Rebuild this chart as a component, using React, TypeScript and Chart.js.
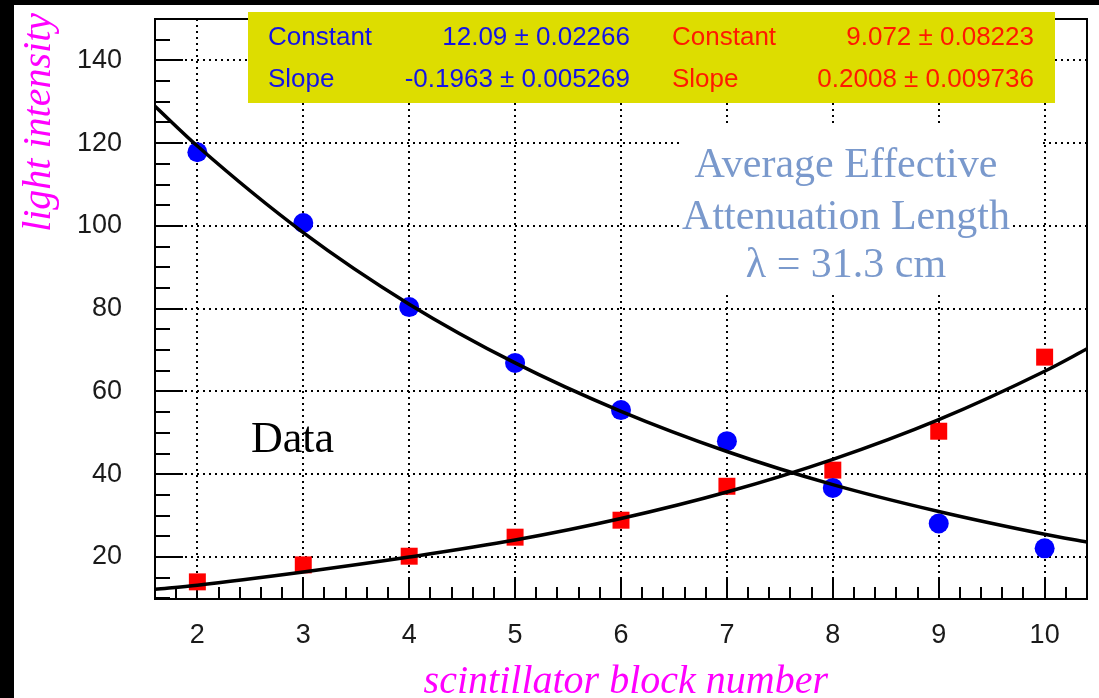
import React, { useEffect, useRef } from 'react';
import { Chart, registerables } from 'chart.js';

Chart.register(...registerables);

// ---- data ----
const blockNumbers = [2, 3, 4, 5, 6, 7, 8, 9, 10];
const blueIntensity = [117.8, 100.7, 80.4, 66.9, 55.5, 48.0, 36.7, 28.1, 22.1];
const redIntensity = [14.0, 18.1, 20.2, 24.8, 28.9, 37.1, 41.0, 50.4, 68.3];

const fitX = [1.6, 2, 3, 4, 5, 6, 7, 8, 9, 10, 10.4];
const blueFit = [128.9, 119.3, 98.4, 81.1, 66.9, 55.2, 45.5, 37.5, 31.0, 25.5, 23.6];
const redFit = [12.2, 13.2, 16.4, 20.0, 24.1, 29.3, 35.7, 43.6, 53.2, 64.9, 70.3];

const xTickValues = [2, 3, 4, 5, 6, 7, 8, 9, 10];
const yTickValues = [20, 40, 60, 80, 100, 120, 140];

const statLabels = ['Constant', 'Slope'];
const blueStats = ['12.09 \u00b1 0.02266', '-0.1963 \u00b1 0.005269'];
const redStats = ['9.072 \u00b1 0.08223', '0.2008 \u00b1 0.009736'];

const noteLines = ['Average Effective', 'Attenuation Length', '\u03bb = 31.3 cm'];
const dataLabel = 'Data';
const xTitle = 'scintillator block number';
const yTitle = 'light intensity';

const W = 1099;
const H = 698;

const backgroundPlugin = {
  id: 'bg',
  beforeDraw(chart: any) {
    const { ctx } = chart;
    ctx.save();
    ctx.fillStyle = '#000';
    ctx.fillRect(0, 0, W, H);
    ctx.fillStyle = '#fff';
    ctx.fillRect(14, 5, W - 14, H - 5);
    ctx.restore();
  },
};

const framePlugin = {
  id: 'frameTicks',
  beforeDatasetsDraw(chart: any) {
    const { ctx, chartArea, scales } = chart;
    const { left, right, top, bottom } = chartArea;
    const x = scales.x;
    const y = scales.y;
    ctx.save();
    // white backing of the pasted annotation text
    ctx.fillStyle = '#fff';
    ctx.fillRect(680, 123, 362, 77);
    ctx.fillRect(680, 200, 332, 92);

    ctx.strokeStyle = '#000';
    ctx.lineWidth = 2;
    ctx.beginPath();
    for (let i = 8; i <= 52; i++) {
      const v = i * 0.2;
      const px = Math.round(x.getPixelForValue(v));
      const major = i % 5 === 0;
      const len = major ? 20 : 12;
      ctx.moveTo(px, bottom);
      ctx.lineTo(px, bottom - len);
    }
    for (let i = 2; i <= 30; i++) {
      const v = i * 5;
      const py = Math.round(y.getPixelForValue(v));
      if (py < top || py > bottom) continue;
      const major = v % 20 === 0;
      const len = major ? 28 : 15;
      ctx.moveTo(left, py);
      ctx.lineTo(left + len, py);
    }
    ctx.stroke();
    ctx.strokeRect(left, top, right - left, bottom - top);
    ctx.restore();
  },
};

const textPlugin = {
  id: 'texts',
  afterDraw(chart: any) {
    const { ctx } = chart;
    ctx.save();
    // stats box
    ctx.fillStyle = 'rgb(221,221,0)';
    ctx.fillRect(248, 12, 807, 91);
    ctx.font = '26px "Liberation Sans", Arial, sans-serif';
    ctx.textBaseline = 'alphabetic';
    const rows = [45, 87];
    statLabels.forEach((lab, i) => {
      ctx.fillStyle = '#1414e6';
      ctx.textAlign = 'left';
      ctx.fillText(lab, 268, rows[i]);
      ctx.textAlign = 'right';
      ctx.fillText(blueStats[i], 630, rows[i]);
      ctx.fillStyle = '#ff1a00';
      ctx.textAlign = 'left';
      ctx.fillText(lab, 672, rows[i]);
      ctx.textAlign = 'right';
      ctx.fillText(redStats[i], 1034, rows[i]);
    });

    // annotation
    ctx.font = '42px "Liberation Serif", "Times New Roman", serif';
    ctx.fillStyle = 'rgb(122,153,204)';
    ctx.textAlign = 'center';
    const bases = [177, 229, 277];
    noteLines.forEach((t, i) => ctx.fillText(t, 846, bases[i]));

    ctx.font = '44px "Liberation Serif", "Times New Roman", serif';
    ctx.fillStyle = '#000';
    ctx.textAlign = 'left';
    ctx.fillText(dataLabel, 251, 452);

    // axis titles
    ctx.font = 'italic 40px "Liberation Serif", "Times New Roman", serif';
    ctx.fillStyle = '#ff00ff';
    ctx.textAlign = 'right';
    ctx.fillText(xTitle, 828, 693);

    ctx.translate(50, 13);
    ctx.rotate(-Math.PI / 2);
    ctx.textAlign = 'right';
    ctx.fillText(yTitle, 0, 0);
    ctx.restore();
  },
};

export default function App() {
  const ref = useRef<HTMLCanvasElement | null>(null);

  useEffect(() => {
    if (!ref.current) return;
    const tickFont = { family: '"Liberation Sans", Arial, sans-serif', size: 27 };
    const chart = new Chart(ref.current, {
      type: 'scatter',
      data: {
        datasets: [
          {
            label: 'blue fit',
            data: fitX.map((xv, i) => ({ x: xv, y: blueFit[i] })),
            showLine: true,
            borderColor: '#000',
            borderWidth: 3.5,
            pointRadius: 0,
            cubicInterpolationMode: 'monotone',
            order: 0,
          },
          {
            label: 'red fit',
            data: fitX.map((xv, i) => ({ x: xv, y: redFit[i] })),
            showLine: true,
            borderColor: '#000',
            borderWidth: 3.5,
            pointRadius: 0,
            cubicInterpolationMode: 'monotone',
            order: 1,
          },
          {
            label: 'blue data',
            data: blockNumbers.map((xv, i) => ({ x: xv, y: blueIntensity[i] })),
            pointStyle: 'circle',
            pointRadius: 10,
            pointBackgroundColor: '#0000ff',
            pointBorderWidth: 0,
            order: 2,
          },
          {
            label: 'red data',
            data: blockNumbers.map((xv, i) => ({ x: xv, y: redIntensity[i] })),
            pointStyle: 'rect',
            pointRadius: 12,
            pointBackgroundColor: '#ff0000',
            pointBorderWidth: 0,
            order: 3,
          },
        ] as any,
      },
      options: {
        responsive: false,
        animation: false,
        devicePixelRatio: 1,
        layout: { padding: { left: 0, top: 19, right: 12, bottom: 0 } },
        plugins: {
          legend: { display: false },
          tooltip: { enabled: false },
        },
        scales: {
          x: {
            type: 'linear',
            min: 1.6,
            max: 10.4,
            afterBuildTicks: (s: any) => {
              s.ticks = xTickValues.map((v) => ({ value: v }));
            },
            ticks: {
              font: tickFont,
              color: '#1a1a1a',
              padding: 20,
              maxRotation: 0,
              autoSkip: false,
              callback: (v: any) => String(v),
            },
            grid: { display: true, color: '#000', lineWidth: 2, drawTicks: false },
            border: { display: false, dash: [2, 4] },
            afterFit: (s: any) => {
              s.height = 99;
              s.paddingLeft = 0;
              s.paddingRight = 0;
            },
          },
          y: {
            type: 'linear',
            min: 9.86,
            max: 150,
            afterBuildTicks: (s: any) => {
              s.ticks = yTickValues.map((v) => ({ value: v }));
            },
            ticks: {
              font: tickFont,
              color: '#1a1a1a',
              padding: 33,
              autoSkip: false,
              callback: (v: any) => String(v),
            },
            grid: { display: true, color: '#000', lineWidth: 2, drawTicks: false },
            border: { display: false, dash: [2, 4] },
            afterFit: (s: any) => {
              s.width = 155;
              s.paddingTop = 0;
              s.paddingBottom = 0;
            },
          },
        },
      } as any,
      plugins: [backgroundPlugin, framePlugin, textPlugin],
    });
    return () => chart.destroy();
  }, []);

  return (
    <div style={{ position: 'fixed', left: 0, top: 0, width: W, height: H, background: '#000' }}>
      <canvas ref={ref} width={W} height={H} style={{ display: 'block' }} />
    </div>
  );
}
